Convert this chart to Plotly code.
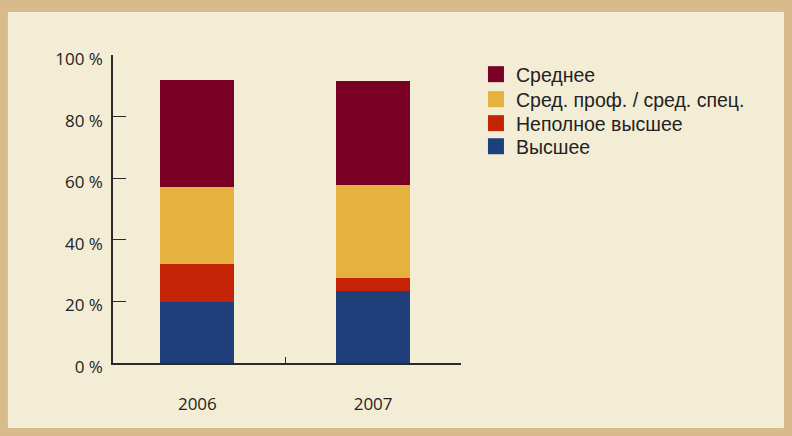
import plotly.graph_objects as go

years = ["2006", "2007"]
series_names = ["Высшее", "Неполное высшее", "Сред. проф. / сред. спец.", "Среднее"]
vysshee = [19.9, 23.4]
nepolnoe = [12.3, 4.2]
sred_prof = [24.9, 30.2]
srednee = [34.7, 33.7]
y_ticks = [0, 20, 40, 60, 80, 100]
y_tick_labels = ["0 %", "20 %", "40 %", "60 %", "80 %", "100 %"]

colors = ["#1e3f7a", "#c42306", "#e6b23f", "#7b0026"]
values = [vysshee, nepolnoe, sred_prof, srednee]
legend_ids = ["legend4", "legend3", "legend2", "legend"]
legend_y = [0.766, 0.841, 0.919, 1.0]

fig = go.Figure()
for name, vals, col in zip(series_names, values, colors):
    fig.add_trace(go.Bar(x=years, y=vals, name=name, marker=dict(color=col, line=dict(width=0)),
                         width=0.42, hoverinfo="skip", showlegend=False))
# legend entries (large square swatches), one legend per row
for name, col, lid in zip(series_names, colors, legend_ids):
    fig.add_trace(go.Scatter(x=[None], y=[None], mode="markers", name=name,
                             marker=dict(symbol="square", size=19, color=col),
                             showlegend=True, hoverinfo="skip", legend=lid))

legend_style = dict(
    x=1.043, xanchor="left", yanchor="top",
    font=dict(family="Liberation Sans", size=19.5, color="#222222"),
    bgcolor="rgba(0,0,0,0)",
    itemsizing="trace",
)
layout_legends = {}
for lid, ly in zip(legend_ids, legend_y):
    layout_legends[lid] = dict(legend_style, y=ly)

fig.update_layout(
    width=792, height=436,
    barmode="stack",
    margin=dict(l=113, r=331, t=55, b=73),
    paper_bgcolor="#d8bb8b",
    plot_bgcolor="rgba(0,0,0,0)",
    font=dict(family="Open Sans", color="#222222"),
    showlegend=True,
    shapes=[
        dict(type="rect", xref="paper", yref="paper",
             x0=-0.302, x1=1.928, y0=-0.211, y1=1.14,
             fillcolor="#f3edd6", line=dict(width=0), layer="below"),
    ],
    **layout_legends,
)
fig.update_xaxes(
    showline=True, linecolor="#2a2a2a", linewidth=1.5,
    ticks="inside", ticklen=6, tickcolor="#2a2a2a", tickson="boundaries",
    showgrid=False, zeroline=False,
    tickfont=dict(family="Open Sans", size=17, color="#222222"),
    ticklabelstandoff=25,
    range=[-0.48, 1.5],
)
fig.update_yaxes(
    range=[0, 100],
    tickvals=y_ticks, ticktext=y_tick_labels,
    showline=True, linecolor="#2a2a2a", linewidth=1.5,
    ticks="inside", ticklen=13, tickcolor="#2a2a2a",
    showgrid=False, zeroline=False,
    tickfont=dict(family="Open Sans", size=17, color="#222222"),
    ticklabelstandoff=5,
    ticklabelshift=4,
)

fig.write_html("out.html", config={"displayModeBar": False},
               post_script="document.body.style.margin='0';")
